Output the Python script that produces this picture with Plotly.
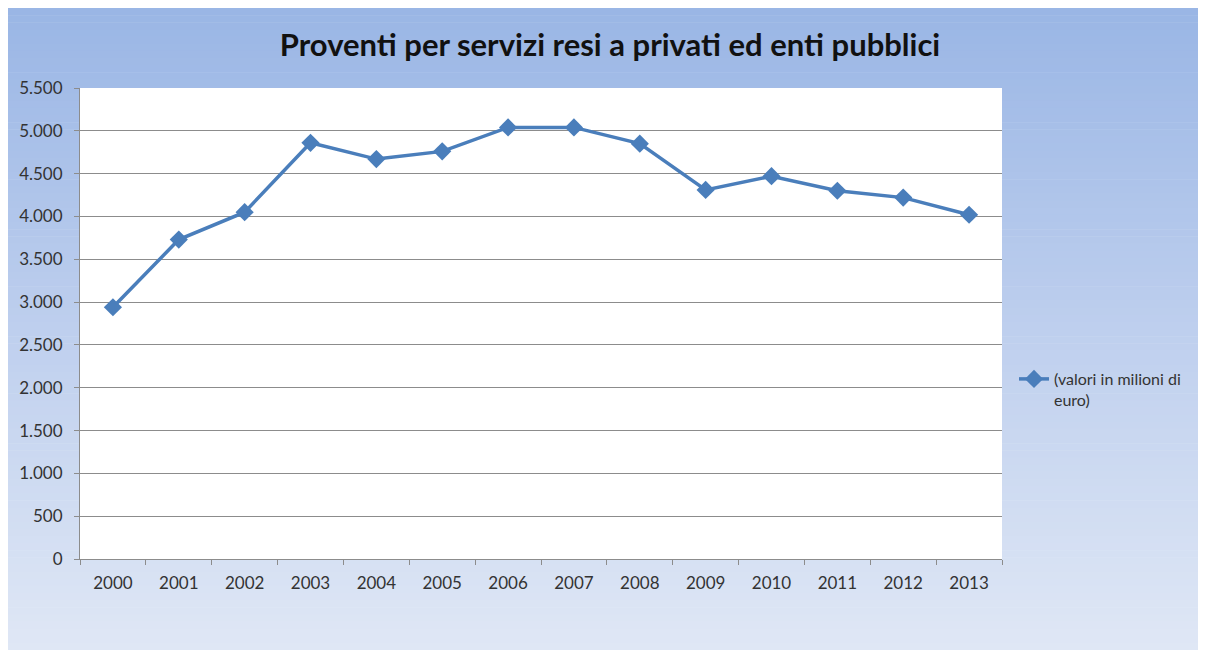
import plotly.graph_objects as go

years = ["2000", "2001", "2002", "2003", "2004", "2005", "2006", "2007",
         "2008", "2009", "2010", "2011", "2012", "2013"]
values = [2940, 3730, 4050, 4860, 4670, 4760, 5040, 5040,
          4850, 4310, 4470, 4300, 4220, 4020]
series_name = "(valori in milioni di<br>euro)"
title_text = "Proventi per servizi resi a privati ed enti pubblici"
y_ticks = [0, 500, 1000, 1500, 2000, 2500, 3000, 3500, 4000, 4500, 5000, 5500]
y_tick_labels = ["0", "500", "1.000", "1.500", "2.000", "2.500", "3.000",
                 "3.500", "4.000", "4.500", "5.000", "5.500"]

# page has an 8px body margin; figure coords = page coords - 8
OFF = 8
W, H = 1192, 642
PL, PR, PT, PB = 80, 1002, 88, 559  # plot area in page pixels
ML = PL - OFF
MR = W - (PR - OFF)
MT = PT - OFF
MB = H - (PB - OFF)
PW, PH = W - ML - MR, H - MT - MB


def px2x(px):
    return (px - OFF - ML) / PW


def px2y(py):
    return (H - MB - (py - OFF)) / PH


fig = go.Figure()
fig.add_trace(go.Scatter(
    x=years, y=values, mode="lines+markers", name=series_name,
    line=dict(color="#4A7EBB", width=3.5),
    marker=dict(symbol="diamond", size=14, color="#4A7EBB"),
))

# gradient background made of thin strips
top_c = (154, 182, 229)
mid_c = (190, 207, 238)
bot_c = (223, 231, 245)
y0p, y1p = OFF, OFF + H
n = 90
shapes = []
for i in range(n):
    t = i / (n - 1)
    if t < 0.5:
        a, b, u = top_c, mid_c, t / 0.5
    else:
        a, b, u = mid_c, bot_c, (t - 0.5) / 0.5
    c = tuple(int(round(a[k] + (b[k] - a[k]) * u)) for k in range(3))
    ya = y0p + (y1p - y0p) * i / n
    yb = min(y0p + (y1p - y0p) * (i + 1) / n + 0.6, y1p)
    shapes.append(dict(
        type="rect", xref="paper", yref="paper", layer="below",
        x0=px2x(OFF), x1=px2x(OFF + W), y0=px2y(yb), y1=px2y(ya),
        fillcolor="rgb(%d,%d,%d)" % c, line=dict(width=0),
    ))
# white plot area on top of gradient
shapes.append(dict(type="rect", xref="paper", yref="paper", layer="below",
                   x0=0, x1=1, y0=0, y1=1, fillcolor="white", line=dict(width=0)))

fig.update_layout(
    width=W, height=H,
    margin=dict(l=ML, r=MR, t=MT, b=MB),
    paper_bgcolor="white",
    plot_bgcolor="white",
    shapes=shapes,
    title=dict(text="<b>%s</b>" % title_text, x=(610 - OFF) / W,
               xanchor="center", y=1 - (45 - OFF) / H, yanchor="middle",
               font=dict(family="Lato, Open Sans, sans-serif", size=31, color="#111111")),
    font=dict(family="Lato, Open Sans, sans-serif", size=17, color="#333333"),
    showlegend=True,
    legend=dict(x=px2x(1014), xanchor="left", y=px2y(362), yanchor="top",
                bgcolor="rgba(0,0,0,0)", font=dict(size=16, color="#333333"),
                valign="top", itemwidth=30),
    xaxis=dict(
        type="category", range=[-0.5, 13.5],
        showgrid=False, showline=True, linecolor="#8C8C8C", linewidth=1,
        ticks="outside", tickson="boundaries", ticklen=5, tickcolor="#8C8C8C",
        tickfont=dict(size=17, color="#333333"), fixedrange=True,
        ticklabelstandoff=9,
    ),
    yaxis=dict(
        range=[0, 5500], tickvals=y_ticks, ticktext=y_tick_labels,
        showgrid=True, gridcolor="#8C8C8C", gridwidth=1,
        showline=True, linecolor="#8C8C8C", linewidth=1,
        ticks="outside", ticklen=5, tickcolor="#8C8C8C",
        tickfont=dict(size=17, color="#333333"), zeroline=False,
        ticklabelstandoff=8,
    ),
)

fig.write_html("out.html")
